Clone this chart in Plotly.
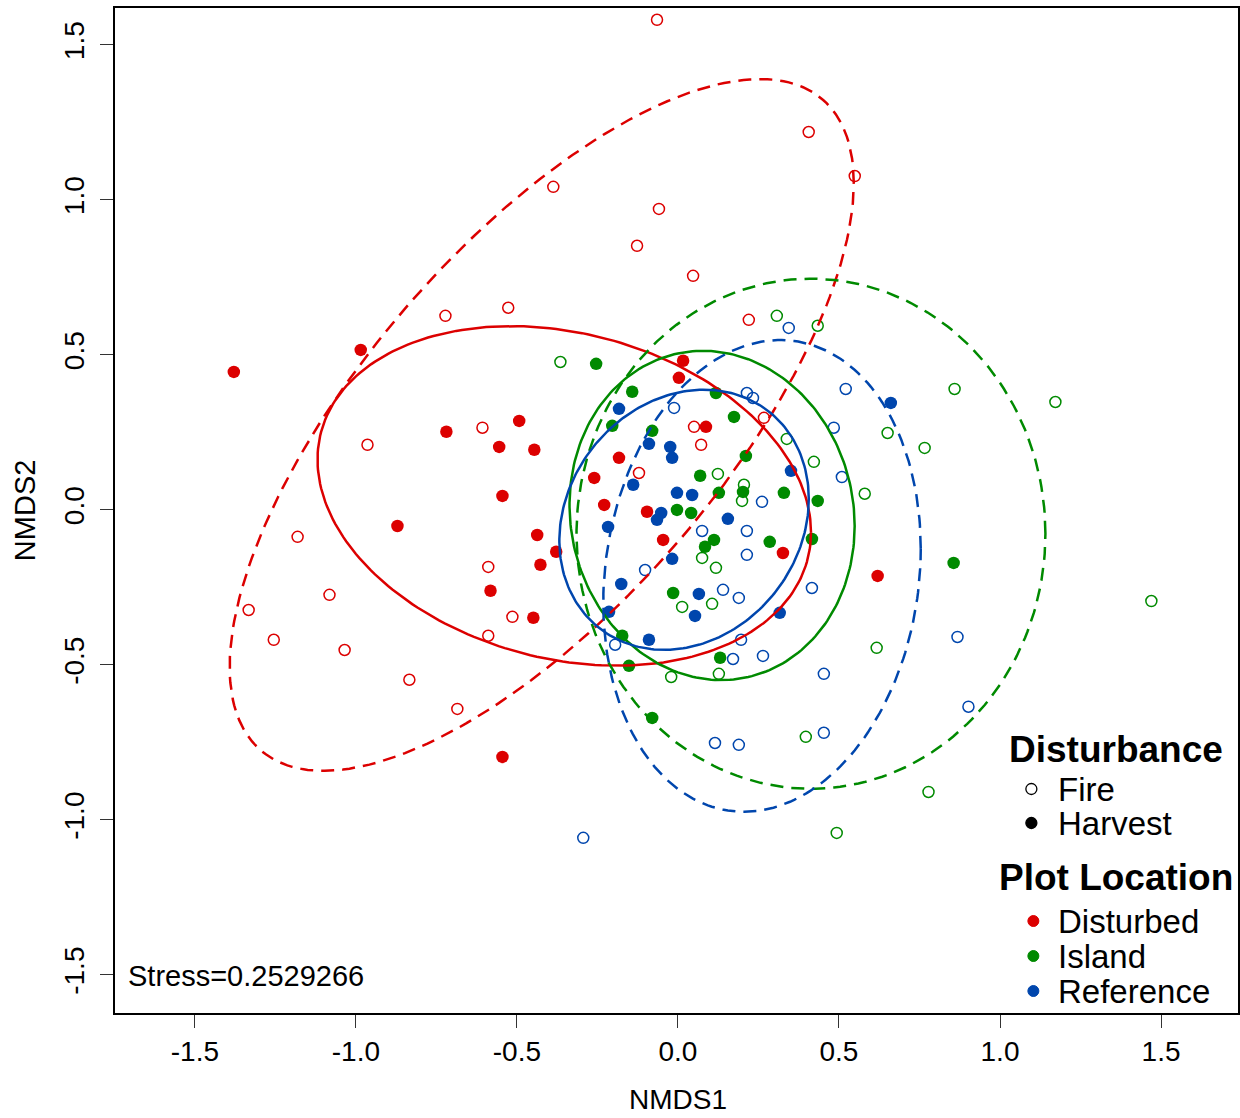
import numpy as np
import plotly.graph_objects as go

# ---------------- data (NMDS scores) ----------------
disturbed_fire_x = [-0.065, 0.406, 0.549, -0.387, -0.059, -0.127, 0.047, -0.722, -0.527, 0.220,
                    -0.964, -0.607, -1.181, -1.082, -1.333, -1.255, -1.035, -0.834, -0.685, -0.589,
                    -0.514, -0.589, 0.050, 0.072, -0.121, 0.267]
disturbed_fire_y = [1.581, 1.219, 1.077, 1.042, 0.971, 0.852, 0.755, 0.626, 0.652, 0.613,
                    0.210, 0.265, -0.087, -0.274, -0.323, -0.419, -0.452, -0.548, -0.642, -0.184,
                    -0.345, -0.406, 0.268, 0.210, 0.119, 0.297]

disturbed_harvest_x = [-1.379, -0.985, -0.719, -0.493, -0.555, -0.446, -0.545, -0.871, -0.437, -0.427,
                       -0.582, -0.449, -0.545, -0.378, -0.229, -0.096, -0.046, 0.016, 0.003, 0.087,
                       -0.183, -0.260, 0.326, 0.620]
disturbed_harvest_y = [0.445, 0.516, 0.252, 0.287, 0.203, 0.194, 0.045, -0.052, -0.081, -0.177,
                       -0.261, -0.348, -0.797, -0.135, 0.016, -0.006, -0.097, 0.481, 0.426, 0.268,
                       0.168, 0.103, -0.139, -0.213]

island_fire_x = [-0.365, 0.307, 0.434, 0.859, 1.172, 0.651, 0.766, 0.338, 0.422, 0.580,
                 0.124, 0.205, 0.199, 0.075, 0.118, 0.013, 0.106, -0.021, 0.127, 0.617,
                 0.397, 0.778, 0.493, 1.470]
island_fire_y = [0.477, 0.626, 0.594, 0.390, 0.348, 0.248, 0.200, 0.229, 0.155, 0.052,
                 0.116, 0.081, 0.029, -0.155, -0.187, -0.313, -0.303, -0.539, -0.529, -0.445,
                 -0.732, -0.910, -1.042, -0.294]

island_harvest_x = [-0.254, -0.142, 0.118, -0.204, -0.080, 0.174, 0.069, 0.127, 0.211, 0.202,
                    0.329, 0.434, 0.416, 0.285, -0.003, 0.041, 0.112, 0.084, -0.015, -0.173,
                    -0.152, 0.131, -0.080, 0.856]
island_harvest_y = [0.471, 0.381, 0.377, 0.271, 0.255, 0.300, 0.110, 0.055, 0.174, 0.058,
                    0.055, 0.029, -0.094, -0.103, 0.000, -0.010, -0.097, -0.119, -0.268, -0.406,
                    -0.503, -0.477, -0.671, -0.171]

reference_fire_x = [0.344, 0.521, 0.214, 0.233, 0.484, 0.509, 0.261, -0.012, 0.214, 0.214,
                    0.189, 0.416, 0.196, 0.171, 0.264, 0.453, 0.075, -0.102, 0.140, -0.195,
                    0.868, 0.902, 0.453, 0.115, 0.189, -0.294]
reference_fire_y = [0.587, 0.390, 0.377, 0.361, 0.265, 0.106, 0.026, 0.329, -0.068, -0.145,
                    -0.284, -0.252, -0.419, -0.481, -0.471, -0.529, -0.068, -0.194, -0.258, -0.435,
                    -0.410, -0.635, -0.719, -0.752, -0.758, -1.058]

reference_harvest_x = [-0.183, -0.090, -0.024, -0.018, -0.139, -0.003, 0.044, -0.217, -0.052, -0.065,
                       -0.018, -0.176, -0.214, 0.065, 0.053, -0.090, 0.155, 0.661, 0.351, 0.316]
reference_harvest_y = [0.326, 0.213, 0.203, 0.168, 0.081, 0.055, 0.048, -0.055, -0.010, -0.032,
                       -0.158, -0.239, -0.329, -0.271, -0.342, -0.419, -0.029, 0.345, 0.126, -0.332]

# dispersion ellipses (centre and covariance-type matrix) per group
ell_location = ["Disturbed", "Disturbed", "Island", "Island", "Reference", "Reference"]
ell_disturbance = ["Fire", "Harvest", "Fire", "Harvest", "Fire", "Harvest"]
ell_cx = [-0.423, -0.353, 0.413, 0.106, 0.261, 0.019]
ell_cy = [0.274, 0.045, -0.077, -0.018, -0.213, -0.032]
ell_sxx = [0.939, 0.587, 0.530, 0.196, 0.243, 0.150]
ell_syy = [1.245, 0.300, 0.677, 0.282, 0.579, 0.176]
ell_sxy = [0.756, -0.090, 0.000, -0.015, 0.043, 0.026]

x_ticks = [-1.5, -1.0, -0.5, 0.0, 0.5, 1.0, 1.5]
x_tick_labels = ["-1.5", "-1.0", "-0.5", "0.0", "0.5", "1.0", "1.5"]
y_ticks = [-1.5, -1.0, -0.5, 0.0, 0.5, 1.0, 1.5]
y_tick_labels = ["-1.5", "-1.0", "-0.5", "0.0", "0.5", "1.0", "1.5"]

stress_value = 0.2529266
locations = ["Disturbed", "Island", "Reference"]
disturbances = ["Fire", "Harvest"]

# ---------------- styling ----------------
COLORS = {"Disturbed": "#DC0000", "Island": "#008A00", "Reference": "#0046AD"}
FONT = "Liberation Sans, Arial, sans-serif"
W, H = 1240, 1118
ML, MR, MT, MB = 115, 0, 8, 105


def ppx(px):
    return (px - ML) / (W - ML - MR)


def ppy(py):
    return (H - MB - py) / (H - MT - MB)


groups = [
    ("Disturbed", "Fire", disturbed_fire_x, disturbed_fire_y),
    ("Disturbed", "Harvest", disturbed_harvest_x, disturbed_harvest_y),
    ("Island", "Fire", island_fire_x, island_fire_y),
    ("Island", "Harvest", island_harvest_x, island_harvest_y),
    ("Reference", "Fire", reference_fire_x, reference_fire_y),
    ("Reference", "Harvest", reference_harvest_x, reference_harvest_y),
]

fig = go.Figure()

for loc, dist, xs, ys in groups:
    col = COLORS[loc]
    if dist == "Fire":
        marker = dict(symbol="circle-open", size=11, color=col, line=dict(width=1.5, color=col))
    else:
        marker = dict(symbol="circle", size=12.5, color=col, line=dict(width=0))
    fig.add_trace(go.Scatter(x=xs, y=ys, mode="markers", marker=marker,
                             name=f"{loc} {dist}", showlegend=False, hoverinfo="x+y+name"))

t = np.linspace(0, 2 * np.pi, 240)
for i in range(len(ell_cx)):
    a = np.sqrt(ell_sxx[i])
    b = ell_sxy[i] / a
    c = np.sqrt(ell_syy[i] - b * b)
    ex = ell_cx[i] + a * np.cos(t)
    ey = ell_cy[i] + b * np.cos(t) + c * np.sin(t)
    dash = "13px,8px" if ell_disturbance[i] == "Fire" else "solid"
    fig.add_trace(go.Scatter(x=ex, y=ey, mode="lines",
                             line=dict(color=COLORS[ell_location[i]], width=2.5, dash=dash),
                             showlegend=False, hoverinfo="skip"))

axis_common = dict(showgrid=False, zeroline=False, showline=True, mirror=True,
                   linecolor="black", linewidth=1.5, ticks="outside", ticklen=13,
                   tickwidth=1, tickcolor="#333", tickfont=dict(family=FONT, size=28, color="black"))

fig.update_xaxes(range=[-1.748, 1.739], tickvals=x_ticks, ticktext=x_tick_labels, **axis_common)
fig.update_yaxes(range=[-1.623, 1.619], tickvals=y_ticks, ticktext=y_tick_labels,
                 tickangle=-90, ticklabelstandoff=5, **axis_common)

annotations = [
    dict(text="NMDS1", x=ppx(679), y=ppy(1099), xref="paper", yref="paper",
         xanchor="center", yanchor="middle", showarrow=False,
         font=dict(family=FONT, size=28, color="black")),
    dict(text="NMDS2", x=ppx(25), y=ppy(510), xref="paper", yref="paper",
         xanchor="center", yanchor="middle", textangle=-90, showarrow=False,
         font=dict(family=FONT, size=29, color="black")),
    dict(text=f"Stress={stress_value}", x=ppx(126), y=ppy(976), xref="paper", yref="paper",
         xanchor="left", yanchor="middle", showarrow=False,
         font=dict(family=FONT, size=29, color="black")),
    dict(text="<b>Disturbance</b>", x=ppx(1009), y=ppy(750), xref="paper", yref="paper",
         xanchor="left", yanchor="middle", showarrow=False,
         font=dict(family=FONT, size=37, color="black")),
    dict(text="<b>Plot Location</b>", x=ppx(999), y=ppy(877), xref="paper", yref="paper",
         xanchor="left", yanchor="middle", showarrow=False,
         font=dict(family=FONT, size=37, color="black")),
]
shapes = []

dist_rows = [789, 823]
for name, yy in zip(disturbances, dist_rows):
    annotations.append(dict(text=name, x=ppx(1058), y=ppy(yy), xref="paper", yref="paper",
                            xanchor="left", yanchor="middle", showarrow=False,
                            font=dict(family=FONT, size=33, color="black")))
    filled = name == "Harvest"
    shapes.append(dict(type="circle", xref="paper", yref="paper", xsizemode="pixel",
                       ysizemode="pixel", xanchor=ppx(1033), yanchor=ppy(yy),
                       x0=-5.5, x1=5.5, y0=-5.5, y1=5.5,
                       fillcolor="black" if filled else "rgba(0,0,0,0)",
                       line=dict(color="black", width=1.3)))

loc_rows = [921, 956, 991]
for name, yy in zip(locations, loc_rows):
    annotations.append(dict(text=name, x=ppx(1058), y=ppy(yy), xref="paper", yref="paper",
                            xanchor="left", yanchor="middle", showarrow=False,
                            font=dict(family=FONT, size=33, color="black")))
    shapes.append(dict(type="circle", xref="paper", yref="paper", xsizemode="pixel",
                       ysizemode="pixel", xanchor=ppx(1035), yanchor=ppy(yy),
                       x0=-5.5, x1=5.5, y0=-5.5, y1=5.5,
                       fillcolor=COLORS[name], line=dict(color=COLORS[name], width=1)))

fig.update_layout(width=W, height=H, margin=dict(l=ML, r=MR, t=MT, b=MB),
                  paper_bgcolor="white", plot_bgcolor="white",
                  annotations=annotations, shapes=shapes, showlegend=False,
                  font=dict(family=FONT, color="black"))

fig.write_html("out.html")
